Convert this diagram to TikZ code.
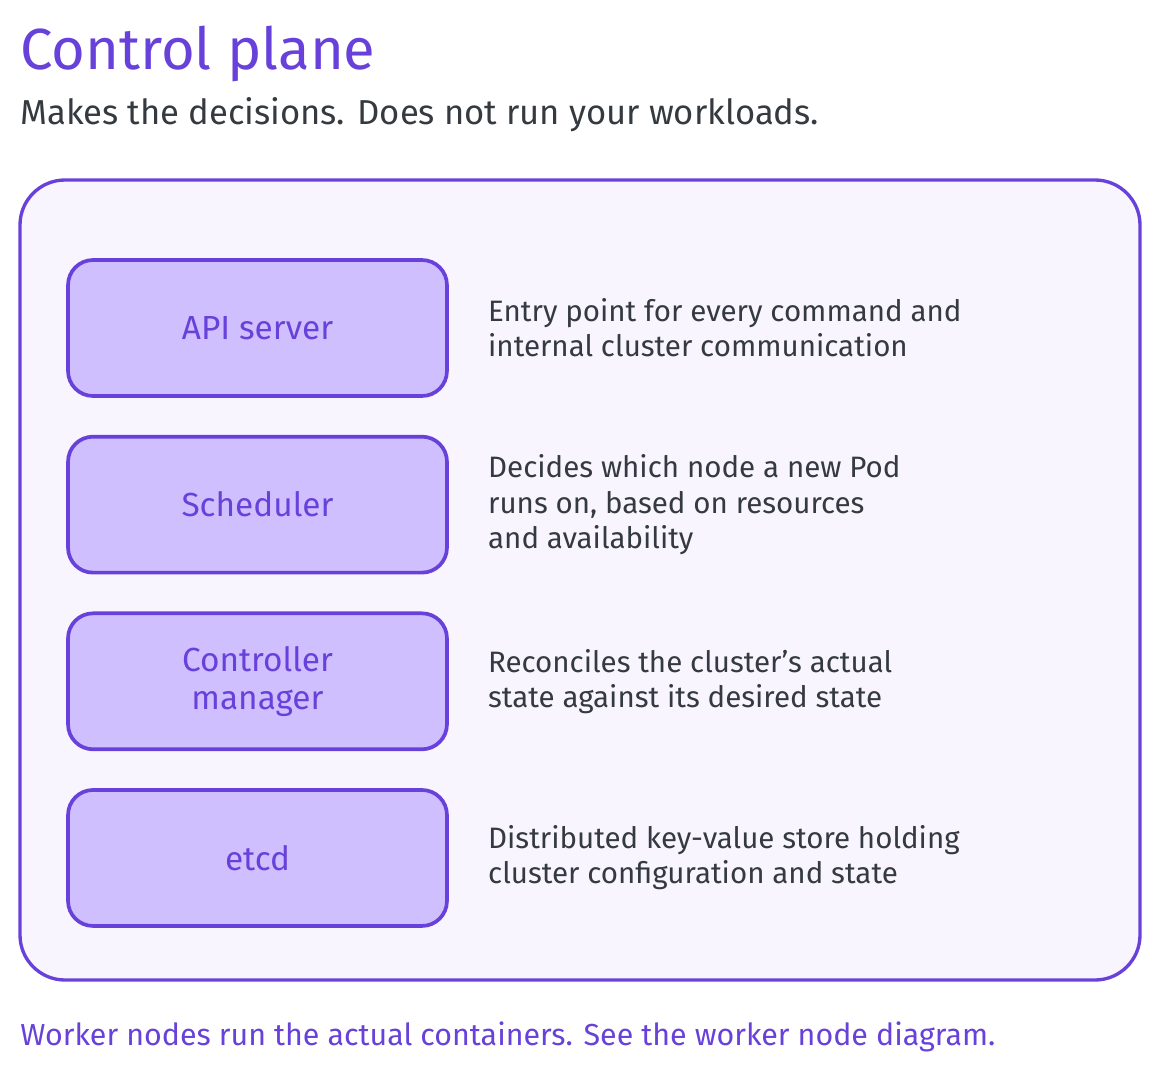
\documentclass[tikz,border=0pt]{standalone}
\usepackage{fontspec}
\setmainfont{Fira Sans}
\usepackage{xcolor}
\usetikzlibrary{positioning}

\definecolor{violet}{HTML}{6741D9}
\definecolor{lilac}{HTML}{D0BFFF}
\definecolor{paper}{HTML}{F8F5FF}
\definecolor{ink}{HTML}{343A40}

\tikzset{
  part/.style={draw=violet, fill=lilac, line width=2.1pt, rounded corners=0.5cm,
    minimum width=7.58cm, minimum height=2.72cm, align=center,
    text=violet, font=\fontsize{19}{21.5}\selectfont},
  note/.style={inner sep=0pt, align=left, text=ink,
    font=\fontsize{16.8}{20}\selectfont}
}

\begin{document}
\begin{tikzpicture}[x=0.02cm, y=-0.02cm]
            \useasboundingbox (0,0) rectangle (1160,1075);
            \node[anchor=base west, inner sep=0pt, text=violet, font=\fontsize{33}{38}\selectfont] (title) at (20,70) {Control plane};
            \node[anchor=base west, inner sep=0pt, text=ink, font=\fontsize{19.7}{23}\selectfont] (sub) at (20,124) {Makes the decisions. Does not run your workloads.};
            \draw[draw=violet, fill=paper, line width=1.9pt, rounded corners=0.9cm] (20,180) rectangle (1140,980);
            \node[part] (api) at (257.5,328) {API server};
            \node[part, below=0.74cm of api] (sched) {Scheduler};
            \node[part, below=0.74cm of sched] (ctrl) {Controller\\manager};
            \node[part, below=0.74cm of ctrl] (etcd) {etcd};
            \node[note, right=0.78cm of api] (apinote) {Entry point for every command and\\internal cluster communication};
            \node[note, right=0.78cm of sched] (schednote) {Decides which node a new Pod\\runs on, based on resources\\and availability};
            \node[note, right=0.78cm of ctrl] (ctrlnote) {Reconciles the cluster's actual\\state against its desired state};
            \node[note, right=0.78cm of etcd] (etcdnote) {Distributed key-value store holding\\cluster configuration and state};
            \node[anchor=base west, inner sep=0pt, text=violet, font=\fontsize{17.3}{21}\selectfont] (foot) at (20,1045) {Worker nodes run the actual containers. See the worker node diagram.};
        \end{tikzpicture}
\end{document}
